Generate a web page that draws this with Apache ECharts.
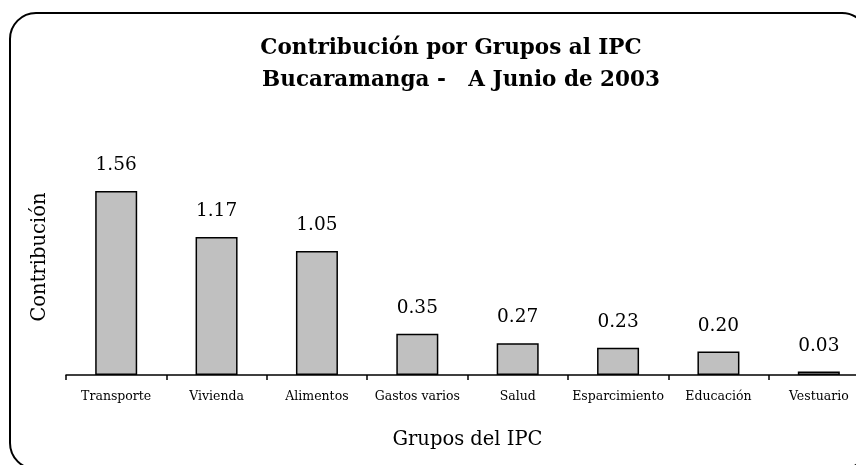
<!DOCTYPE html>
<html>
<head>
<meta charset="utf-8">
<script src="https://cdn.jsdelivr.net/npm/echarts@6/dist/echarts.min.js"></script>
<style>
  html, body { margin: 0; padding: 0; background: #fff; }
  #chart { width: 856px; height: 465px; }
</style>
</head>
<body>
<div id="chart"></div>
<script>
var categories = ['Transporte', 'Vivienda', 'Alimentos', 'Gastos varios', 'Salud', 'Esparcimiento', 'Educación', 'Vestuario']
var contribution = [1.56, 1.17, 1.05, 0.35, 0.27, 0.23, 0.20, 0.03]

var serif = 'DejaVu Serif'
var chart = echarts.init(document.getElementById('chart'))
var option = {
  animation: false,
  backgroundColor: '#fff',
  title: [
    {
      text: 'Contribución por Grupos al IPC',
      left: 446,
      textAlign: 'center',
      top: 32,
      textStyle: { fontFamily: serif, fontWeight: 'bold', fontSize: 21.5, color: '#000' }
    },
    {
      text: 'Bucaramanga -   A Junio de 2003',
      left: 456,
      textAlign: 'center',
      top: 64,
      textStyle: { fontFamily: serif, fontWeight: 'bold', fontSize: 21.5, color: '#000' }
    }
  ],
  graphic: [
    {
      type: 'rect',
      z: -1,
      shape: { x: 10, y: 13, width: 858, height: 456, r: 26 },
      style: { fill: 'none', stroke: '#000', lineWidth: 2 }
    }
  ],
  grid: {
    left: 66,
    width: 803,
    top: 139,
    bottom: 90,
    outerBoundsMode: 'none',
    containLabel: false
  },
  xAxis: {
    type: 'category',
    data: categories,
    name: 'Grupos del IPC',
    nameLocation: 'middle',
    nameGap: 55,
    nameTextStyle: { fontFamily: serif, fontSize: 19.5, color: '#000' },
    axisLine: { lineStyle: { color: '#000', width: 1.5 } },
    axisTick: { show: true, length: 5, lineStyle: { color: '#000', width: 1.5 } },
    axisLabel: {
      interval: 0,
      margin: 15,
      fontFamily: serif,
      fontSize: 12.5,
      color: '#000'
    }
  },
  yAxis: {
    type: 'value',
    min: 0,
    max: 2,
    name: 'Contribución',
    nameLocation: 'middle',
    nameGap: 16,
    nameTextStyle: { fontFamily: serif, fontSize: 19.5, color: '#000' },
    axisLine: { show: false },
    axisTick: { show: false },
    axisLabel: { show: false },
    splitLine: { show: false }
  },
  series: [
    {
      type: 'bar',
      data: contribution,
      barWidth: 42,
      itemStyle: {
        color: '#c0c0c0',
        borderColor: '#000',
        borderWidth: 1.5
      },
      label: {
        show: true,
        position: 'top',
        distance: 16,
        formatter: function (p) { return p.value.toFixed(2) },
        fontFamily: serif,
        fontSize: 18.5,
        color: '#000'
      }
    }
  ]
}
chart.setOption(option)
</script>
</body>
</html>
